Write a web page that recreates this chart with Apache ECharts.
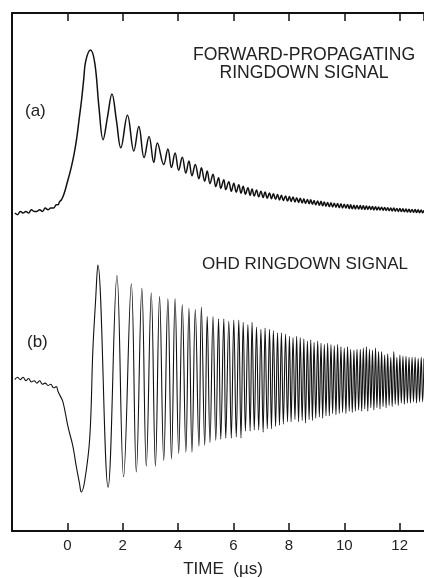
<!DOCTYPE html>
<html>
<head>
<meta charset="utf-8">
<script src="https://cdn.jsdelivr.net/npm/echarts@6/dist/echarts.min.js"></script>
<style>
  html, body { margin: 0; padding: 0; background: #fff; }
  #chart { width: 424px; height: 578px; }
</style>
</head>
<body>
<div id="chart"></div>
<script>
// time axis (µs)
const xTicks = [0, 2, 4, 6, 8, 10, 12];

// (a) forward-propagating signal, start-up part: time / amplitude (baseline 0, main peak 1)
const timeA0 = [-1.90, -1.80, -1.70, -1.60, -1.50, -1.40, -1.30, -1.20, -1.10, -1.00,
  -0.90, -0.80, -0.70, -0.60, -0.50, -0.40, -0.34, -0.28, -0.22, -0.16,
  -0.08, 0.00, 0.08, 0.14, 0.24, 0.33, 0.42, 0.51, 0.59, 0.66,
  0.83, 0.99, 1.14, 1.29, 1.45, 1.61, 1.77, 1.93, 2.17, 2.40,
  2.58, 2.77, 2.95, 3.12, 3.25];
const valA0 = [0.00, -0.01, 0.01, 0.00, 0.01, 0.00, 0.02, 0.01, 0.01, 0.02,
  0.01, 0.03, 0.02, 0.03, 0.03, 0.05, 0.05, 0.07, 0.08, 0.10,
  0.14, 0.19, 0.24, 0.28, 0.36, 0.45, 0.57, 0.69, 0.82, 0.93,
  1.00, 0.92, 0.65, 0.45, 0.59, 0.73, 0.57, 0.40, 0.60, 0.38,
  0.53, 0.34, 0.47, 0.31, 0.43];

// (b) OHD signal, start-up part: time / amplitude (baseline 0, first peak 1)
const timeB0 = [-1.90, -1.80, -1.70, -1.60, -1.50, -1.40, -1.30, -1.20, -1.10, -1.00,
  -0.90, -0.80, -0.70, -0.60, -0.50, -0.40, -0.34, -0.28, -0.16, 0.02,
  0.20, 0.32, 0.44, 0.50, 0.63, 0.81, 0.92, 1.02, 1.10, 1.47,
  1.79, 2.03, 2.31, 2.49, 2.69, 2.85, 3.03, 3.18, 3.33];
const valB0 = [0.02, 0.04, 0.02, 0.04, 0.01, 0.03, 0.00, 0.01, -0.01, 0.01,
  -0.02, -0.01, -0.03, -0.02, -0.05, -0.04, -0.08, -0.11, -0.17, -0.38,
  -0.55, -0.72, -0.87, -0.94, -0.84, -0.47, 0.27, 0.70, 1.00, -0.90,
  0.91, -0.81, 0.84, -0.77, 0.80, -0.72, 0.76, -0.72, 0.73];

// ringing extrema after ~3.4 µs (trough, peak, trough, ...), shared by both traces
const ringT = [
  3.48, 3.63, 3.76, 3.89, 4.02, 4.15, 4.28, 4.39,
  4.50, 4.62, 4.75, 4.84, 4.96, 5.05, 5.15, 5.26,
  5.36, 5.46, 5.54, 5.65, 5.72, 5.83, 5.92, 6.01,
  6.10, 6.19, 6.27, 6.35, 6.43, 6.52, 6.60, 6.67,
  6.75, 6.83, 6.91, 6.99, 7.07, 7.14, 7.22, 7.30,
  7.37, 7.44, 7.52, 7.59, 7.66, 7.73, 7.80, 7.88,
  7.95, 8.02, 8.08, 8.15, 8.22, 8.28, 8.35, 8.41,
  8.48, 8.54, 8.60, 8.67, 8.73, 8.79, 8.85, 8.91,
  8.97, 9.04, 9.10, 9.16, 9.22, 9.28, 9.34, 9.40,
  9.46, 9.52, 9.58, 9.64, 9.70, 9.76, 9.82, 9.88,
  9.94, 10.00, 10.06, 10.12, 10.18, 10.23, 10.29, 10.35,
  10.40, 10.46, 10.52, 10.58, 10.63, 10.69, 10.74, 10.80,
  10.85, 10.91, 10.96, 11.02, 11.07, 11.13, 11.18, 11.24,
  11.29, 11.35, 11.40, 11.46, 11.51, 11.57, 11.62, 11.68,
  11.73, 11.79, 11.84, 11.90, 11.95, 12.01, 12.06, 12.12,
  12.17, 12.23, 12.28, 12.34, 12.39, 12.45, 12.50, 12.56,
  12.61, 12.67, 12.72, 12.78, 12.83, 12.88];

const ringA = [
  0.297, 0.393, 0.279, 0.368, 0.262, 0.342, 0.245, 0.319,
  0.229, 0.298, 0.210, 0.278, 0.195, 0.258, 0.180, 0.238,
  0.162, 0.216, 0.151, 0.204, 0.143, 0.192, 0.133, 0.183,
  0.128, 0.174, 0.121, 0.164, 0.115, 0.155, 0.108, 0.148,
  0.104, 0.141, 0.099, 0.134, 0.095, 0.129, 0.091, 0.123,
  0.087, 0.118, 0.084, 0.114, 0.080, 0.109, 0.077, 0.105,
  0.073, 0.102, 0.071, 0.098, 0.068, 0.094, 0.065, 0.091,
  0.062, 0.087, 0.059, 0.083, 0.057, 0.081, 0.053, 0.077,
  0.050, 0.073, 0.047, 0.072, 0.044, 0.067, 0.042, 0.064,
  0.039, 0.063, 0.037, 0.060, 0.036, 0.058, 0.033, 0.057,
  0.031, 0.054, 0.030, 0.052, 0.027, 0.050, 0.026, 0.048,
  0.025, 0.046, 0.024, 0.046, 0.023, 0.044, 0.022, 0.043,
  0.022, 0.042, 0.021, 0.040, 0.019, 0.039, 0.019, 0.037,
  0.018, 0.036, 0.017, 0.034, 0.016, 0.033, 0.014, 0.031,
  0.012, 0.030, 0.011, 0.028, 0.010, 0.027, 0.009, 0.026,
  0.007, 0.025, 0.006, 0.023, 0.005, 0.022, 0.004, 0.021,
  0.003, 0.020, 0.002, 0.018, 0.001, 0.017];

const ringB = [
  -0.67, 0.71, -0.66, 0.71, -0.61, 0.66, -0.60, 0.63,
  -0.60, 0.62, -0.55, 0.64, -0.54, 0.56, -0.52, 0.56,
  -0.50, 0.54, -0.49, 0.54, -0.48, 0.52, -0.48, 0.53,
  -0.47, 0.53, -0.48, 0.51, -0.42, 0.49, -0.42, 0.51,
  -0.41, 0.47, -0.41, 0.45, -0.43, 0.46, -0.40, 0.45,
  -0.40, 0.44, -0.38, 0.42, -0.37, 0.42, -0.36, 0.41,
  -0.34, 0.39, -0.34, 0.38, -0.32, 0.39, -0.34, 0.38,
  -0.33, 0.37, -0.35, 0.35, -0.32, 0.36, -0.33, 0.34,
  -0.31, 0.35, -0.30, 0.33, -0.31, 0.32, -0.29, 0.33,
  -0.29, 0.32, -0.27, 0.31, -0.28, 0.32, -0.27, 0.30,
  -0.26, 0.29, -0.27, 0.30, -0.25, 0.28, -0.26, 0.27,
  -0.25, 0.28, -0.24, 0.28, -0.25, 0.29, -0.23, 0.30,
  -0.25, 0.28, -0.22, 0.27, -0.24, 0.29, -0.22, 0.26,
  -0.23, 0.26, -0.21, 0.23, -0.22, 0.24, -0.20, 0.21,
  -0.21, 0.26, -0.19, 0.21, -0.20, 0.23, -0.18, 0.22,
  -0.19, 0.22, -0.18, 0.21, -0.18, 0.21, -0.17, 0.21,
  -0.18, 0.20, -0.17, 0.21, -0.17, 0.20];

const FONT = "'Liberation Sans', Arial, Helvetica, sans-serif";

const dataA = timeA0.map((t, i) => [t, valA0[i]])
  .concat(ringT.map((t, i) => [t, ringA[i]]));
const dataB = timeB0.map((t, i) => [t, valB0[i]])
  .concat(ringT.map((t, i) => [t, ringB[i]]));

const myChart = echarts.init(document.getElementById("chart"));

const frameLine = { show: true, onZero: false, lineStyle: { color: "#111", width: 2 } };

const option = {
  animation: false,
  backgroundColor: "#fff",
  grid: [
    { left: 12, right: 0, top: 13, height: 230 },
    { left: 12, right: 0, top: 243, height: 288 },
  ],
  xAxis: [
    {
      gridIndex: 0,
      type: "value",
      position: "top",
      min: -2,
      max: 12.88,
      interval: 2,
      axisLine: frameLine,
      axisTick: { show: true, inside: true, length: 8, lineStyle: { color: "#111", width: 1.5 } },
      axisLabel: { show: false },
      splitLine: { show: false },
    },
    {
      gridIndex: 1,
      type: "value",
      position: "bottom",
      min: -2,
      max: 12.88,
      interval: 2,
      axisLine: frameLine,
      axisTick: { show: true, inside: true, length: 8, lineStyle: { color: "#111", width: 1.5 } },
      axisLabel: {
        margin: 7,
        fontSize: 15,
        color: "#222",
        fontFamily: FONT,
        showMaxLabel: false,
        formatter: (v) => (xTicks.indexOf(v) >= 0 ? String(v) : ""),
      },
      splitLine: { show: false },
    },
  ],
  yAxis: [
    {
      gridIndex: 0,
      type: "value",
      min: -0.184,
      max: 1.227,
      axisLine: frameLine,
      axisTick: { show: false },
      axisLabel: { show: false },
      splitLine: { show: false },
    },
    {
      gridIndex: 1,
      type: "value",
      min: -1.274,
      max: 1.188,
      axisLine: frameLine,
      axisTick: { show: false },
      axisLabel: { show: false },
      splitLine: { show: false },
    },
  ],
  series: [
    {
      name: "forward",
      type: "line",
      xAxisIndex: 0,
      yAxisIndex: 0,
      data: dataA,
      showSymbol: false,
      smooth: 0.4,
      lineStyle: { color: "#111", width: 1.5 },
    },
    {
      name: "ohd",
      type: "line",
      xAxisIndex: 1,
      yAxisIndex: 1,
      data: dataB,
      showSymbol: false,
      smooth: 0.4,
      lineStyle: { color: "#111", width: 1.1 },
    },
  ],
  graphic: [
    {
      type: "text", x: 304, y: 55,
      style: { text: "FORWARD-PROPAGATING", font: "17.6px " + FONT, fill: "#222", align: "center", verticalAlign: "middle" },
    },
    {
      type: "text", x: 304, y: 73,
      style: { text: "RINGDOWN SIGNAL", font: "17.6px " + FONT, fill: "#222", align: "center", verticalAlign: "middle" },
    },
    {
      type: "text", x: 305, y: 264,
      style: { text: "OHD RINGDOWN SIGNAL", font: "17px " + FONT, fill: "#222", align: "center", verticalAlign: "middle" },
    },
    {
      type: "text", x: 25, y: 111,
      style: { text: "(a)", font: "17px " + FONT, fill: "#222", align: "left", verticalAlign: "middle" },
    },
    {
      type: "text", x: 27, y: 342,
      style: { text: "(b)", font: "17px " + FONT, fill: "#222", align: "left", verticalAlign: "middle" },
    },
    {
      type: "text", x: 223, y: 569,
      style: { text: "TIME  (\u00b5s)", font: "17px " + FONT, fill: "#222", align: "center", verticalAlign: "middle" },
    },
  ],
};

myChart.setOption(option);
</script>
</body>
</html>
